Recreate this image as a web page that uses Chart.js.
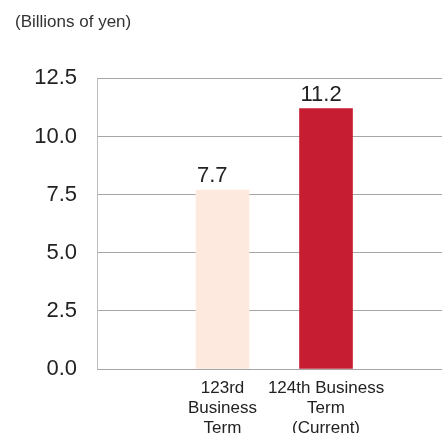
<!DOCTYPE html>
<html>
<head>
<meta charset="utf-8">
<script src="https://cdn.jsdelivr.net/npm/chart.js@4/dist/chart.umd.min.js"></script>
<style>
  html, body { margin: 0; padding: 0; background: #fff; }
  #wrap { width: 442px; height: 433px; }
</style>
</head>
<body>
<div id="wrap"><canvas id="c" width="442" height="433"></canvas></div>
<script>
// Ordinary profit by business term (billions of yen)
const categories = [
  ['123rd', 'Business', 'Term'],
  ['124th Business', 'Term', '(Current)']
];
const values = [7.7, 11.2];
const barColors = ['#FDE9DD', '#C61D33'];
const yTicks = [0, 2.5, 5, 7.5, 10, 12.5];
const unitLabel = '(Billions of yen)';

const FONT = "'Liberation Sans', Arial, sans-serif";

// Value labels written above each bar
const valueLabels = {
  id: 'valueLabels',
  afterDatasetsDraw(chart) {
    const ctx = chart.ctx;
    const meta = chart.getDatasetMeta(0);
    ctx.save();
    ctx.font = '22px ' + FONT;
    ctx.fillStyle = '#222';
    ctx.textAlign = 'left';
    ctx.textBaseline = 'alphabetic';
    meta.data.forEach((bar, i) => {
      const left = bar.x - bar.width / 2;
      ctx.fillText(values[i].toFixed(1), left + 1, bar.y - 8);
    });
    ctx.restore();
  }
};

const points = values.map((v, i) => ({ x: i + 1, y: v }));

new Chart(document.getElementById('c'), {
  type: 'bar',
  data: {
    datasets: [{
      data: points,
      backgroundColor: barColors,
      borderWidth: 0,
      barThickness: 53,
      grouped: false
    }]
  },
  options: {
    responsive: false,
    animation: false,
    layout: { padding: { top: 12, left: 15, right: 0, bottom: 0 } },
    plugins: {
      legend: { display: false },
      tooltip: { enabled: false },
      title: {
        display: true,
        text: unitLabel,
        align: 'start',
        color: '#333',
        font: { family: FONT, size: 17, weight: 'normal', lineHeight: 1.2 },
        padding: { top: 0, bottom: 46 }
      }
    },
    scales: {
      x: {
        type: 'linear',
        min: -0.2126,
        max: 3.1207,
        bounds: 'data',
        offset: false,
        grid: { display: false, drawTicks: false, offset: false },
        border: { display: false },
        afterBuildTicks(scale) {
          scale.ticks = categories.map((_, i) => ({ value: i + 1 }));
        },
        afterFit(scale) { scale.height = 64; },
        ticks: {
          padding: 10,
          autoSkip: false,
          maxRotation: 0,
          color: '#222',
          font: { family: FONT, size: 17, lineHeight: 1.15 },
          callback: (v) => categories[Math.round(v) - 1] || ''
        }
      },
      y: {
        min: 0,
        max: 12.5,
        afterBuildTicks(scale) {
          scale.ticks = yTicks.map(v => ({ value: v }));
        },
        afterFit(scale) { scale.width = 82; },
        grid: { color: '#A6A6A6', lineWidth: 1, drawTicks: false },
        border: { display: true, color: '#BDBDBD', width: 1 },
        ticks: {
          padding: 20,
          color: '#222',
          font: { family: FONT, size: 22 },
          callback: (v) => Number(v).toFixed(1)
        }
      }
    }
  },
  plugins: [valueLabels]
});
</script>
</body>
</html>
